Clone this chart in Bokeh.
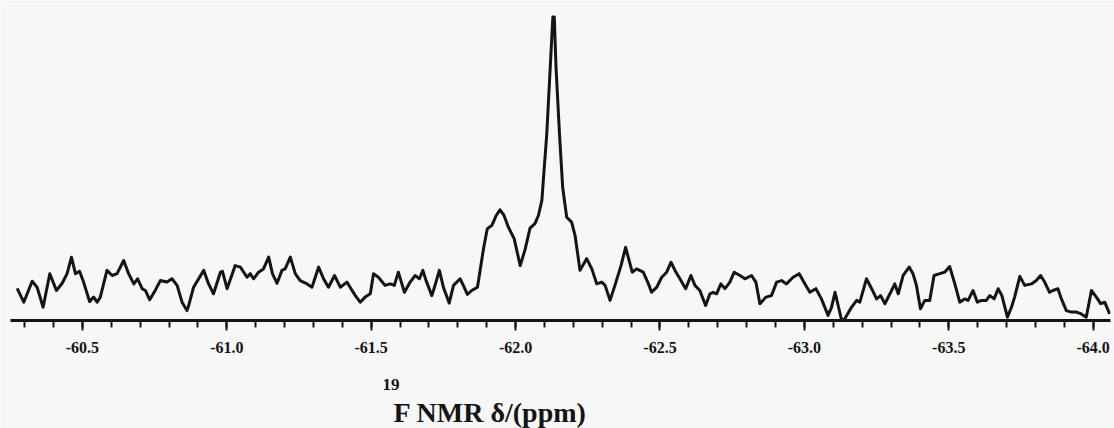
from bokeh.plotting import figure
from bokeh.models import Range1d, FixedTicker, Title
from bokeh.embed import file_html
from bokeh.resources import INLINE
import numpy as np

# chemical shift (ppm) and relative intensity
shift = [-60.274, -60.297, -60.326, -60.343, -60.364, -60.387, -60.401, -60.410, -60.430, -60.447,
         -60.462, -60.476, -60.490, -60.504, -60.525, -60.539, -60.551, -60.562, -60.585, -60.603,
         -60.620, -60.643, -60.660, -60.678, -60.691, -60.707, -60.718, -60.733, -60.753, -60.770,
         -60.793, -60.810, -60.828, -60.845, -60.862,
         -60.868, -60.885, -60.920, -60.937, -60.954, -60.978, -60.985, -61.001, -61.029, -61.047,
         -61.070, -61.081, -61.093, -61.110, -61.127, -61.145, -61.158, -61.174, -61.191, -61.202,
         -61.220, -61.237, -61.254, -61.278, -61.295, -61.318, -61.335, -61.352, -61.373, -61.393,
         -61.416, -61.427, -61.445, -61.462, -61.479, -61.497, -61.508,
         -61.525, -61.548, -61.566, -61.580, -61.594, -61.615, -61.635, -61.652, -61.667, -61.679,
         -61.690, -61.710, -61.721, -61.736, -61.750, -61.770, -61.785, -61.808, -61.819, -61.833,
         -61.848, -61.868, -61.889, -61.902, -61.918, -61.933, -61.946, -61.960, -61.975, -61.995,
         -62.016, -62.033, -62.050, -62.067, -62.079, -62.091, -62.096, -62.108, -62.117, -62.123,
         -62.129, -62.134, -62.140, -62.152, -62.163, -62.177, -62.194, -62.206,
         -62.223, -62.246, -62.264, -62.281, -62.298, -62.310, -62.327, -62.344, -62.365, -62.381,
         -62.393, -62.404, -62.419, -62.442, -62.460, -62.471, -62.489, -62.506, -62.523, -62.538,
         -62.552, -62.569, -62.589, -62.607, -62.621, -62.638, -62.658, -62.673, -62.684, -62.696,
         -62.711, -62.725, -62.742, -62.757, -62.777, -62.794,
         -62.817, -62.832, -62.846, -62.867, -62.886, -62.904, -62.921, -62.938, -62.961, -62.982,
         -63.002, -63.019, -63.040, -63.059, -63.082, -63.094, -63.106, -63.117, -63.129, -63.140,
         -63.163, -63.181, -63.192, -63.215, -63.233, -63.250, -63.264, -63.279, -63.302, -63.313,
         -63.325, -63.342, -63.363, -63.376, -63.388, -63.402, -63.417, -63.434,
         -63.449, -63.469, -63.486, -63.503, -63.521, -63.538, -63.555, -63.567, -63.584, -63.599,
         -63.613, -63.630, -63.642, -63.657, -63.671, -63.684, -63.703, -63.717, -63.728, -63.746,
         -63.763, -63.786, -63.803, -63.818, -63.832, -63.849, -63.861, -63.878, -63.890, -63.907,
         -63.925, -63.942, -63.959, -63.976, -63.994, -64.011, -64.026, -64.040, -64.057]

intensity = [10.7, 6.1, 13.1, 11.1, 4.4, 15.6, 12.2, 10.0, 12.4, 15.6,
             21.1, 15.6, 16.4, 12.8, 6.3, 7.8, 6.1, 7.8, 16.7, 15.0,
             15.6, 20.0, 15.6, 12.2, 13.9, 10.6, 10.0, 6.9, 10.2, 13.3,
             12.8, 13.9, 11.7, 6.1, 3.3,
             5.0, 11.1, 16.7, 12.2, 8.9, 16.1, 16.4, 10.6, 18.3, 17.8,
             14.4, 15.6, 13.9, 16.1, 17.2, 21.1, 15.6, 12.4, 16.7, 17.2,
             21.1, 15.6, 13.3, 12.2, 11.1, 17.8, 13.9, 11.1, 15.0, 11.1,
             12.8, 11.1, 8.3, 6.1, 7.8, 8.9, 15.6,
             14.4, 11.7, 12.2, 11.7, 16.1, 9.4, 12.8, 15.0, 13.9, 16.7,
             13.3, 8.3, 11.7, 16.7, 11.1, 5.8, 11.7, 13.9, 11.7, 8.7,
             10.0, 11.1, 24.0, 30.6, 31.7, 35.0, 36.9, 35.0, 31.1, 27.3,
             18.3, 23.7, 30.8, 32.3, 35.0, 40.0, 46.7, 62.2, 78.9, 90.0,
             101.1, 101.1, 84.4, 62.2, 44.4, 34.4, 32.8, 28.3,
             16.7, 20.6, 17.2, 12.2, 12.8, 11.7, 6.7, 11.7, 18.3, 24.4,
             20.0, 16.1, 17.2, 16.1, 12.2, 9.4, 11.1, 14.4, 16.1, 19.4,
             16.7, 13.9, 10.6, 15.0, 11.7, 10.0, 5.0, 8.9, 9.4, 8.9,
             12.2, 10.6, 12.8, 16.1, 15.0, 13.9,
             15.0, 12.8, 5.6, 7.8, 8.3, 12.8, 13.3, 12.2, 14.4, 15.6,
             12.2, 9.4, 10.6, 7.2, 1.7, 4.4, 9.4, 5.0, 0.0, 0.6,
             4.4, 6.7, 6.1, 13.9, 10.6, 7.2, 8.3, 5.6, 10.0, 12.2,
             8.9, 15.0, 17.8, 15.6, 11.7, 3.9, 6.7, 6.7,
             15.0, 15.6, 16.1, 18.0, 12.2, 6.1, 7.2, 6.7, 10.0, 6.1,
             6.7, 6.7, 8.3, 7.2, 10.6, 8.3, 1.1, 4.4, 7.8, 14.7,
             11.7, 12.2, 13.3, 15.0, 12.8, 9.4, 10.0, 10.6, 7.2, 3.3,
             2.8, 2.8, 2.2, 1.1, 10.0, 7.8, 5.6, 6.1, 2.2]

tick_values = [-60.5, -61.0, -61.5, -62.0, -62.5, -63.0, -63.5, -64.0]
tick_labels = ["-60.5", "-61.0", "-61.5", "-62.0", "-62.5", "-63.0", "-63.5", "-64.0"]
minor_tick_values = [round(v, 1) for v in np.arange(-60.3, -64.05, -0.1)]

x_title = "F NMR δ/(ppm)"
x_title_sup = "19"

bg = "#f7f7f7"
ink = "#141414"

p = figure(width=1114, height=428, output_backend="svg", toolbar_location=None,
           x_range=Range1d(-60.251, -64.06), y_range=Range1d(0, 103.3),
           y_axis_location=None,
           min_border_left=10, min_border_right=4, min_border_top=10, min_border_bottom=108,
           background_fill_color=bg, border_fill_color=bg, outline_line_color=None)
p.grid.visible = False

p.line(shift, intensity, line_color=ink, line_width=3, line_join="round")

ax = p.xaxis[0]
ax.ticker = FixedTicker(ticks=tick_values, minor_ticks=minor_tick_values)
ax.major_label_overrides = dict(zip(tick_values, tick_labels))
ax.axis_line_color = ink
ax.axis_line_width = 3
ax.major_tick_line_color = ink
ax.major_tick_line_width = 2
ax.major_tick_in = 0
ax.major_tick_out = 10
ax.minor_tick_line_color = ink
ax.minor_tick_line_width = 2
ax.minor_tick_in = 0
ax.minor_tick_out = 7
ax.major_label_standoff = 11
ax.major_label_text_font = "Liberation Sans Narrow"
ax.major_label_text_font_style = "bold"
ax.major_label_text_font_size = "16px"
ax.major_label_text_color = ink

p.add_layout(Title(text=x_title_sup, align="left", offset=372, standoff=42,
                   text_font="Liberation Serif", text_font_style="bold", text_font_size="17px",
                   text_color=ink), "below")
p.add_layout(Title(text=x_title, align="left", offset=383, standoff=-32,
                   text_font="Liberation Serif", text_font_style="bold", text_font_size="28px",
                   text_color=ink), "below")

open("out.html", "w").write(file_html(p, INLINE))
